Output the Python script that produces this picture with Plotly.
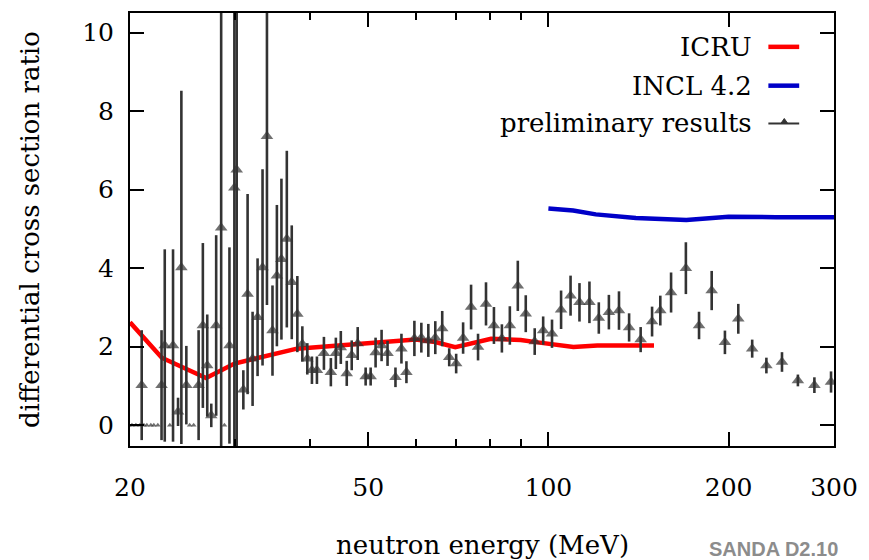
import plotly.graph_objects as go

# ---------------- data ----------------
energy = [19.9, 20.15, 20.46, 20.78, 20.92, 21.10, 21.34, 21.67, 21.92, 22.26,
          22.58, 22.86, 23.31, 23.60, 24.06, 24.37, 24.84, 25.16, 25.55, 26.04,
          26.47, 26.92, 27.34, 27.86, 28.40, 28.76, 29.32, 29.88, 30.15, 30.93,
          31.44, 32.05, 32.67, 33.30, 33.87, 34.60, 35.19, 35.81, 36.56, 37.26,
          38.07, 38.81, 39.56, 40.27, 41.05, 42.17, 43.31, 44.15, 45.00, 46.04,
          46.93, 48.02, 49.51, 50.47, 51.44, 52.64, 53.86, 55.53, 56.82, 57.92,
          59.72, 61.34, 63.01, 64.72, 66.47, 68.28, 70.13, 72.03, 74.27, 76.29,
          78.66, 81.10, 83.62, 86.22, 88.90, 91.66, 94.87, 98.01, 101.4, 105.0,
          108.9, 112.7, 117.1, 121.4, 126.2, 131.2, 136.4, 142.6, 149.0, 153.8,
          160.3, 169.7, 178.5, 187.4, 197.2, 207.6, 219.0, 231.3, 245.6, 261.1,
          278.2, 296.6]
ratio = [0, 0, 0, 0, 1.02, 0, 0, 0, 0, 0,
         1.02, 2.03, 0, 2.03, 0.34, 4.02, 1.02, 0, 0, 1.02,
         2.54, 1.52, 0.25, 2.54, 5.03, 0, 2.03, 6.05, 6.51, 0.9,
         3.34, 1.69, 2.75, 4.02, 7.36, 2.41, 3.81, 4.23, 4.74, 3.64,
         2.83, 2.07, 1.69, 1.40, 1.40, 1.83, 1.35, 1.83, 1.98, 1.32,
         1.78, 2.08, 1.24, 1.24, 1.85, 2.03, 1.83, 1.22, 1.95, 1.35,
         2.21, 2.23, 2.16, 2.23, 2.46, 1.73, 1.57, 2.22, 3.01, 1.99,
         3.09, 2.54, 2.21, 2.54, 3.55, 2.84, 2.13, 2.41, 2.33, 2.94,
         3.30, 3.13, 3.13, 2.73, 2.88, 2.92, 2.49, 2.18, 2.64, 2.92,
         3.38, 4.00, 2.54, 3.43, 2.11, 2.71, 1.95, 1.52, 1.61, 1.14,
         1.02, 1.10]
ratio_err = [0, 0, 0, 0, 1.4, 0, 0, 0, 0, 0,
             1.4, 2.45, 0, 2.45, 0.36, 4.5, 1.0, 0, 0, 1.4,
             2.1, 1.3, 0.3, 2.3, 5.6, 0, 2.5, 7.0, 7.5, 0.5,
             2.55, 1.2, 1.5, 2.5, 4.3, 1.15, 1.8, 2.05, 2.25, 1.45,
             0.97, 0.45, 0.4, 0.35, 0.35, 0.42, 0.36, 0.4, 0.42, 0.32,
             0.38, 0.42, 0.23, 0.23, 0.38, 0.4, 0.32, 0.25, 0.38, 0.28,
             0.45, 0.38, 0.42, 0.42, 0.45, 0.23, 0.25, 0.4, 0.57, 0.34,
             0.55, 0.47, 0.36, 0.49, 0.64, 0.47, 0.34, 0.36, 0.36, 0.49,
             0.51, 0.49, 0.53, 0.4, 0.44, 0.49, 0.36, 0.32, 0.38, 0.38,
             0.51, 0.66, 0.35, 0.5, 0.3, 0.38, 0.23, 0.2, 0.25, 0.15,
             0.2, 0.27]

icru_energy = [20, 22.6, 26.8, 29.9, 38.0, 43.8, 48.2, 60.0, 64.7, 69.9,
               80.2, 89.9, 96.0, 110.1, 120.7, 150.1]
icru_ratio = [2.62, 1.72, 1.20, 1.57, 1.95, 2.03, 2.07, 2.18, 2.12, 1.99,
              2.20, 2.17, 2.11, 1.99, 2.03, 2.03]

incl_energy = [100, 110, 120, 140, 170, 200, 240, 300]
incl_ratio = [5.52, 5.47, 5.37, 5.28, 5.23, 5.31, 5.30, 5.30]

x_tick_vals = [20, 50, 100, 200, 300]
x_tick_text = ["20", "50", "100", "200", "300"]
x_minor_vals = [30, 40, 60, 70, 80, 90]
y_tick_vals = [0, 2, 4, 6, 8, 10]

legend_labels = ["ICRU", "INCL 4.2", "preliminary results"]

# ---------------- figure ----------------
SERIF = "DejaVu Serif"
DARK = "#333333"
RED = "#ff0000"
BLUE = "#0000c8"

fig = go.Figure()

fig.add_trace(go.Scatter(x=icru_energy, y=icru_ratio, mode="lines",
                         line=dict(color=RED, width=4.5), showlegend=False))
fig.add_trace(go.Scatter(x=incl_energy, y=incl_ratio, mode="lines",
                         line=dict(color=BLUE, width=4.5), showlegend=False))

marker_sizes = [5 if v == 0 else 11 for v in ratio]
fig.add_trace(go.Scatter(
    x=energy, y=ratio, mode="markers",
    marker=dict(symbol="triangle-up", size=marker_sizes, color=DARK,
                line=dict(width=0)),
    error_y=dict(type="data", array=ratio_err, visible=True,
                 color=DARK, thickness=2.6, width=0),
    showlegend=False))

# ---------------- legend (text left of samples, as in reference) ----------------
def px_x(p):
    return (p - 130) / 708.0

def px_y(p):
    return (446 - p) / 435.0

rows = [45, 84, 122]
colors = [RED, BLUE, DARK]
widths = [4.5, 4.5, 2]
for lab, ry, c, w in zip(legend_labels, rows, colors, widths):
    fig.add_annotation(x=px_x(758), y=px_y(ry), xref="paper", yref="paper",
                       text=lab, showarrow=False, xanchor="right",
                       yanchor="middle",
                       font=dict(family=SERIF, size=26, color="black"))
    fig.add_shape(type="line", xref="paper", yref="paper",
                  x0=px_x(772), x1=px_x(803), y0=px_y(ry), y1=px_y(ry),
                  line=dict(color=c, width=w))
# small triangle on the data legend sample
cx, by, ty = px_x(788), px_y(122), px_y(117)
hw = 3.5 / 708.0
fig.add_shape(type="path", xref="paper", yref="paper",
              path=f"M {cx-hw},{by} L {cx+hw},{by} L {cx},{ty} Z",
              fillcolor=DARK, line=dict(color=DARK, width=1))

# axis titles
fig.add_annotation(x=px_x(484), y=px_y(545), xref="paper", yref="paper",
                   text="neutron energy (MeV)", showarrow=False,
                   xanchor="center", yanchor="middle",
                   font=dict(family=SERIF, size=26, color="black"))
fig.add_annotation(x=px_x(29), y=0.5, xref="paper", yref="paper",
                   text="differential cross section ratio", showarrow=False,
                   textangle=-90, xanchor="center", yanchor="middle",
                   font=dict(family=SERIF, size=26, color="black"))
fig.add_annotation(x=px_x(777), y=px_y(549), xref="paper", yref="paper",
                   text="<b>SANDA D2.10</b>", showarrow=False,
                   xanchor="center", yanchor="middle",
                   font=dict(family="Liberation Sans", size=20, color="#8c8c8c"))

fig.update_layout(
    width=869, height=560,
    margin=dict(l=130, r=31, t=11, b=114),
    paper_bgcolor="white", plot_bgcolor="white",
    showlegend=False,
)
fig.update_xaxes(
    type="log", range=[1.30103, 2.4771213],
    tickmode="array", tickvals=x_tick_vals, ticktext=x_tick_text,
    ticks="inside", ticklen=14, tickwidth=2, tickcolor="black",
    minor=dict(tickmode="array", tickvals=x_minor_vals, ticks="inside",
               ticklen=7, tickwidth=2, tickcolor="black"),
    showline=True, linecolor="black", linewidth=2, mirror="ticks",
    showgrid=False, zeroline=False,
    tickfont=dict(family=SERIF, size=25, color="black"),
    ticklabelstandoff=18,
)
fig.update_yaxes(
    range=[-0.53, 10.5],
    tickmode="array", tickvals=y_tick_vals,
    ticks="inside", ticklen=14, tickwidth=2, tickcolor="black",
    showline=True, linecolor="black", linewidth=2, mirror="ticks",
    showgrid=False, zeroline=False,
    tickfont=dict(family=SERIF, size=25, color="black"),
    ticklabelstandoff=9,
)

fig.write_html("out.html")
